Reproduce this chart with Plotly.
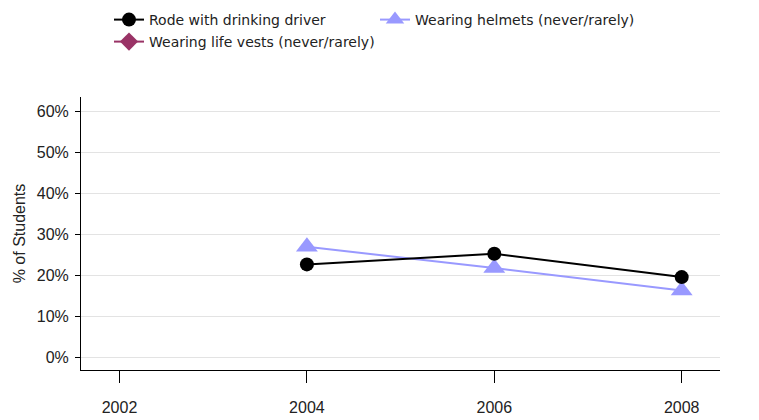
import plotly.graph_objects as go

years = [2002, 2004, 2006, 2008]
drinking_driver = [None, 0.227, 0.253, 0.196]
helmets = [None, 0.270, 0.218, 0.163]
life_vests = [None, None, None, None]
x_ticks = [2002, 2004, 2006, 2008]
y_ticks = [0, 0.1, 0.2, 0.3, 0.4, 0.5, 0.6]

L, R, T, B = 81, 39, 97, 50
PW, PH = 759 - L - R, 420 - T - B

fig = go.Figure()
fig.add_trace(go.Scatter(
    x=years, y=life_vests, name="Wearing life vests (never/rarely)",
    mode="lines+markers", line=dict(color="#993366", width=2),
    marker=dict(symbol="diamond", size=14, color="#993366"), legend="legend2"))
fig.add_trace(go.Scatter(
    x=years, y=helmets, name="Wearing helmets (never/rarely)", legendrank=2,
    mode="lines+markers", line=dict(color="#9999ff", width=2),
    marker=dict(symbol="triangle-up", size=19, color="#9999ff")))
fig.add_trace(go.Scatter(
    x=years, y=drinking_driver, name="Rode with drinking driver", legendrank=1,
    mode="lines+markers", line=dict(color="black", width=2),
    marker=dict(symbol="circle", size=14, color="black")))

legfont = dict(family="DejaVu Sans", size=14, color="#222")
axfont = dict(family="Liberation Sans", size=16, color="#222")
fig.update_layout(
    width=759, height=420,
    margin=dict(l=L, r=R, t=T, b=B, autoexpand=False),
    paper_bgcolor="white", plot_bgcolor="white",
    showlegend=True,
    legend=dict(orientation="h", x=(109 - L) / PW, y=1 + (T - 20) / PH,
                xanchor="left", yanchor="middle",
                font=legfont, entrywidth=221, traceorder="normal",
                bgcolor="rgba(0,0,0,0)"),
    legend2=dict(orientation="h", x=(109 - L) / PW, y=1 + (T - 42) / PH,
                 xanchor="left", yanchor="middle",
                 font=legfont, bgcolor="rgba(0,0,0,0)"),
    font=axfont,
)
fig.update_xaxes(
    range=[2001.589, 2008.409], tickvals=x_ticks, ticktext=[str(v) for v in x_ticks],
    showgrid=False, zeroline=False, showline=True, linecolor="black", linewidth=1,
    ticks="outside", ticklen=12, tickcolor="black", ticklabelstandoff=11,
    automargin=False, tickfont=axfont)
fig.update_yaxes(
    range=[-0.031, 0.636], tickvals=y_ticks, tickformat=".0%",
    showgrid=True, gridcolor="#e3e3e3", gridwidth=1, zeroline=False,
    showline=True, linecolor="black", linewidth=1,
    ticks="outside", ticklen=5, tickcolor="black", automargin=False,
    ticklabelstandoff=3, tickfont=axfont,
    title=dict(text="% of Students", font=axfont, standoff=7))

fig.write_html("out.html", config={"displayModeBar": False},
               post_script="document.body.style.margin='0';")
